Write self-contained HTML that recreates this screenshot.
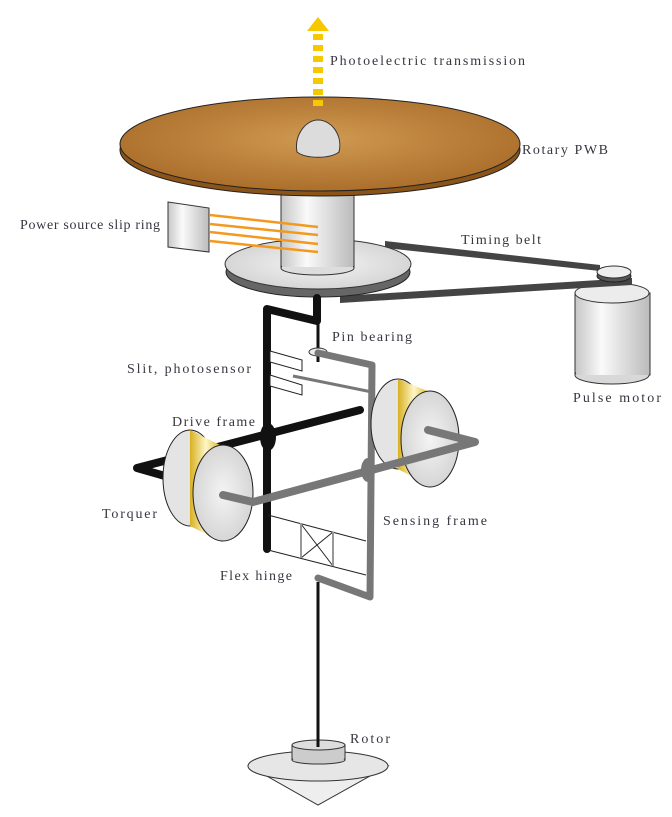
<!DOCTYPE html>
<html><head><meta charset="utf-8"><style>
html,body{margin:0;padding:0;background:#fff;}
svg{display:block;}
text{font-family:"Liberation Serif","DejaVu Serif",serif;font-size:14px;fill:#3a3540;}
</style></head><body>
<svg width="672" height="817" viewBox="0 0 672 817" xmlns="http://www.w3.org/2000/svg">
<defs>
<radialGradient id="br" cx="0.5" cy="0.45" r="0.6">
<stop offset="0" stop-color="#d09a52"/><stop offset="1" stop-color="#a86b28"/></radialGradient>
<linearGradient id="cyl" x1="0" x2="1" y1="0" y2="0">
<stop offset="0" stop-color="#c8c8c8"/><stop offset="0.35" stop-color="#fafafa"/><stop offset="1" stop-color="#bcbcbc"/></linearGradient>
<linearGradient id="yel" x1="0" x2="1" y1="0" y2="0">
<stop offset="0" stop-color="#d8b020"/><stop offset="0.5" stop-color="#fff6c8"/><stop offset="1" stop-color="#d8b020"/></linearGradient>
<radialGradient id="disc" cx="0.5" cy="0.5" r="0.6">
<stop offset="0" stop-color="#f4f4f4"/><stop offset="1" stop-color="#d0d0d0"/></radialGradient>
</defs>

<!-- pulse motor -->
<rect x="575" y="293" width="75" height="82" fill="url(#cyl)" stroke="#333"/>
<ellipse cx="612" cy="375" rx="37" ry="9" fill="#d8d8d8" stroke="#333"/>
<rect x="576" y="293" width="73" height="82" fill="url(#cyl)"/>
<ellipse cx="612" cy="293" rx="37" ry="10" fill="#ececec" stroke="#333"/>

<!-- belts -->
<polygon points="385,241 600,265 600,271 385,248" fill="#444"/>
<polygon points="340,296 632,278 632,285 340,303" fill="#444"/>
<ellipse cx="614" cy="276" rx="17" ry="6" fill="#555" stroke="#222"/>
<ellipse cx="614" cy="272" rx="17" ry="6" fill="#eee" stroke="#333"/>

<!-- pulley -->
<ellipse cx="318" cy="272" rx="92" ry="25" fill="#666" stroke="#222"/>
<ellipse cx="318" cy="264" rx="93" ry="25" fill="url(#disc)" stroke="#333"/>

<!-- cylinder -->
<rect x="281" y="180" width="73" height="88" fill="url(#cyl)" stroke="#333"/>
<ellipse cx="317.5" cy="268" rx="36.5" ry="7" fill="#ddd" stroke="#333"/>
<rect x="282" y="180" width="71" height="87" fill="url(#cyl)"/>

<!-- slip ring -->
<polygon points="168,202 209,208 209,252 168,247" fill="url(#cyl)" stroke="#333"/>
<g stroke="#f39a1e" stroke-width="2.5">
<line x1="210" y1="215" x2="318" y2="227"/>
<line x1="210" y1="224" x2="318" y2="235"/>
<line x1="210" y1="232" x2="318" y2="244"/>
<line x1="210" y1="241" x2="318" y2="252"/>
</g>

<!-- disc -->
<ellipse cx="320" cy="150" rx="200" ry="46" fill="#8a5418" stroke="#222"/>
<ellipse cx="320" cy="144" rx="200" ry="47" fill="url(#br)" stroke="#222"/>
<path d="M297,152 C294,136 305,120 318,120 C332,120 343,136 339,152 C330,159 306,159 297,152 Z" fill="#dcdcdc" stroke="#333"/>

<!-- arrow -->
<polygon points="318,17 307,31 329,31" fill="#f6c800"/>
<g fill="#f6c800">
<rect x="313" y="34" width="10" height="6"/><rect x="313" y="45" width="10" height="6"/>
<rect x="313" y="56" width="10" height="6"/><rect x="313" y="67" width="10" height="6"/>
<rect x="313" y="78" width="10" height="6"/><rect x="313" y="89" width="10" height="6"/>
<rect x="313" y="100" width="10" height="6"/>
</g>

<!-- drive frame -->
<path d="M267,549 L267,309 L317,321 L317,298" fill="none" stroke="#111" stroke-width="8" stroke-linejoin="round" stroke-linecap="round"/>
<line x1="318" y1="320" x2="318" y2="362" stroke="#111" stroke-width="3"/>
<ellipse cx="318" cy="352" rx="9" ry="4" fill="#eee" stroke="#333"/>

<!-- slits -->
<g fill="#fff" stroke="#222">
<polygon points="270,351 302,360 302,371 270,362"/>
<polygon points="270,375 302,385 302,395 270,386"/>
</g>
<line x1="293" y1="376" x2="372" y2="392" stroke="#777" stroke-width="3"/>

<!-- flex hinge -->
<g stroke="#222" fill="none">
<line x1="268" y1="515" x2="366" y2="541"/>
<line x1="268" y1="550" x2="366" y2="575"/>
<line x1="301" y1="524" x2="333" y2="566"/><line x1="333" y1="532" x2="301" y2="558"/>
</g>
<line x1="301" y1="523" x2="301" y2="558" stroke="#999" stroke-width="2"/>
<line x1="333" y1="532" x2="333" y2="566" stroke="#999" stroke-width="2"/>

<!-- sensing frame vertical -->
<path d="M318,353 L372,365 L370,597 L318,578" fill="none" stroke="#777" stroke-width="7" stroke-linejoin="round" stroke-linecap="round"/>

<!-- right torquer -->
<ellipse cx="398" cy="424" rx="27" ry="45" fill="#e4e4e4" stroke="#222"/>
<path d="M398,379 L430,392 L430,486 L398,469 Z" fill="url(#yel)"/>
<ellipse cx="430" cy="439" rx="29" ry="48" fill="url(#disc)" stroke="#222"/>

<!-- drive frame horizontal -->
<path d="M360,410 L137,468 L165,476" fill="none" stroke="#111" stroke-width="8" stroke-linejoin="round" stroke-linecap="round"/>
<ellipse cx="268" cy="437" rx="8" ry="14" fill="#111"/>

<!-- left torquer -->
<ellipse cx="190" cy="478" rx="27" ry="48" fill="#e4e4e4" stroke="#222"/>
<path d="M190,430 L222,446 L222,542 L190,526 Z" fill="url(#yel)"/>
<ellipse cx="223" cy="493" rx="30" ry="48" fill="url(#disc)" stroke="#222"/>

<!-- sensing bar -->
<path d="M223,495 L253,502 L368,471 L475,442 L428,430" fill="none" stroke="#777" stroke-width="8" stroke-linejoin="round" stroke-linecap="round"/>
<ellipse cx="368" cy="470" rx="7" ry="12" fill="#777"/>

<!-- rotor -->
<line x1="318" y1="582" x2="318" y2="745" stroke="#111" stroke-width="3"/>
<polygon points="249,766 318,805 388,766" fill="#eee" stroke="#333"/>
<ellipse cx="318" cy="766" rx="70" ry="15" fill="#e6e6e6" stroke="#333"/>
<rect x="292" y="745" width="53" height="15" fill="#ccc" stroke="#333"/>
<ellipse cx="318.5" cy="760" rx="26.5" ry="4" fill="#ccc" stroke="#333"/>
<rect x="293" y="745" width="51" height="14" fill="#ccc"/>
<ellipse cx="318.5" cy="745" rx="26.5" ry="5" fill="#ddd" stroke="#333"/>
<line x1="318" y1="735" x2="318" y2="747" stroke="#111" stroke-width="3"/>

<!-- labels -->
<text x="330" y="65" textLength="195">Photoelectric transmission</text>
<text x="522" y="154" textLength="86">Rotary PWB</text>
<text x="20" y="229" textLength="140">Power source slip ring</text>
<text x="461" y="244" textLength="80">Timing belt</text>
<text x="332" y="341" textLength="80">Pin bearing</text>
<text x="127" y="373" textLength="124">Slit, photosensor</text>
<text x="573" y="402" textLength="88">Pulse motor</text>
<text x="172" y="426" textLength="83">Drive frame</text>
<text x="102" y="518" textLength="55">Torquer</text>
<text x="383" y="525" textLength="104">Sensing frame</text>
<text x="220" y="580" textLength="72">Flex hinge</text>
<text x="350" y="743" textLength="40">Rotor</text>
</svg>
</body></html>
